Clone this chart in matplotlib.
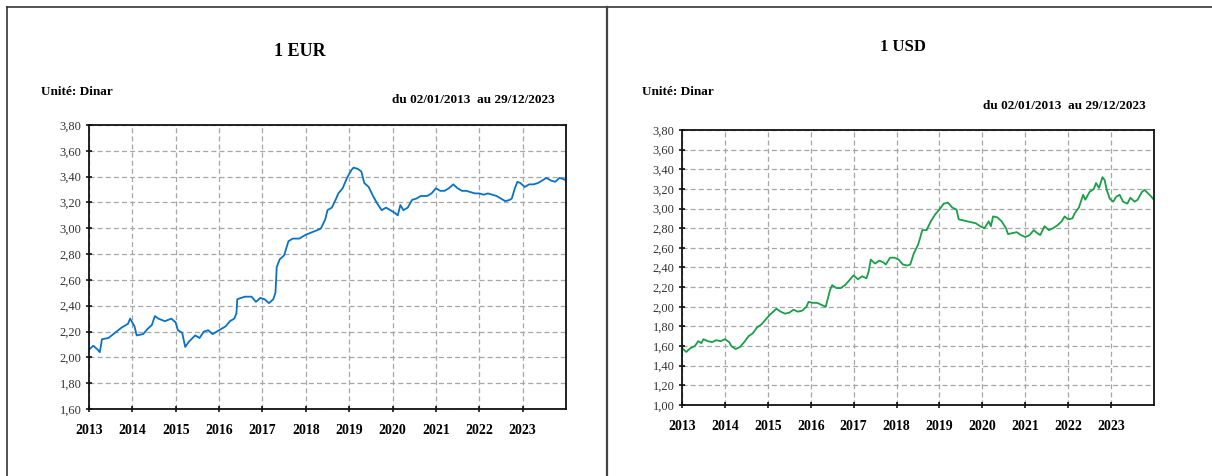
import matplotlib
matplotlib.use("Agg")
import matplotlib.pyplot as plt
from matplotlib.lines import Line2D
from matplotlib.ticker import FuncFormatter

plt.rcParams["font.family"] = ["Liberation Serif", "DejaVu Serif"]

# EUR / Dinar, decimal years
eur_t = [2013.0, 2013.1, 2013.2, 2013.25, 2013.3, 2013.45, 2013.6, 2013.75, 2013.9, 2013.95,
         2014.05, 2014.1, 2014.25, 2014.35, 2014.45, 2014.52, 2014.6, 2014.75, 2014.9, 2015.0,
         2015.05, 2015.15, 2015.22, 2015.3, 2015.45, 2015.55, 2015.65, 2015.75, 2015.85, 2016.0,
         2016.15, 2016.25, 2016.35, 2016.4, 2016.42, 2016.5, 2016.6, 2016.75, 2016.85, 2016.95,
         2017.05, 2017.15, 2017.25, 2017.3, 2017.33, 2017.4, 2017.5, 2017.6, 2017.7, 2017.85,
         2018.0, 2018.15, 2018.3, 2018.35, 2018.45, 2018.5, 2018.6, 2018.7, 2018.75, 2018.85,
         2018.95, 2019.05, 2019.1, 2019.2, 2019.28, 2019.35, 2019.45, 2019.55, 2019.65, 2019.75,
         2019.85, 2019.95, 2020.05, 2020.12, 2020.18, 2020.25, 2020.35, 2020.45, 2020.55, 2020.65,
         2020.8, 2020.9, 2021.0, 2021.1, 2021.2, 2021.3, 2021.4, 2021.5, 2021.6, 2021.7,
         2021.8, 2021.9, 2022.0, 2022.1, 2022.2, 2022.3, 2022.4, 2022.5, 2022.6, 2022.7,
         2022.75, 2022.82, 2022.88, 2022.95, 2023.05, 2023.15, 2023.25, 2023.35, 2023.45, 2023.55,
         2023.65, 2023.75, 2023.85, 2023.95, 2024.0]
eur_v = [2.06, 2.09, 2.06, 2.04, 2.14, 2.15, 2.19, 2.23, 2.26, 2.30,
         2.24, 2.17, 2.18, 2.22, 2.25, 2.32, 2.30, 2.28, 2.30, 2.27,
         2.21, 2.19, 2.08, 2.12, 2.17, 2.15, 2.20, 2.21, 2.18, 2.21,
         2.24, 2.28, 2.30, 2.34, 2.45, 2.46, 2.47, 2.47, 2.43, 2.46,
         2.45, 2.42, 2.45, 2.50, 2.70, 2.76, 2.79, 2.90, 2.92, 2.92,
         2.95, 2.97, 2.99, 3.00, 3.07, 3.14, 3.16, 3.23, 3.27, 3.31,
         3.39, 3.45, 3.47, 3.46, 3.44, 3.35, 3.32, 3.25, 3.19, 3.14,
         3.16, 3.14, 3.12, 3.10, 3.18, 3.14, 3.16, 3.22, 3.23, 3.25,
         3.25, 3.27, 3.31, 3.29, 3.29, 3.31, 3.34, 3.31, 3.29, 3.29,
         3.28, 3.27, 3.27, 3.26, 3.27, 3.26, 3.25, 3.23, 3.21, 3.22,
         3.23, 3.31, 3.36, 3.35, 3.32, 3.34, 3.34, 3.35, 3.37, 3.39,
         3.37, 3.36, 3.39, 3.38, 3.37]

# USD / Dinar, decimal years
usd_t = [2013.0, 2013.05, 2013.1, 2013.2, 2013.3, 2013.38, 2013.45, 2013.5, 2013.6, 2013.7,
         2013.8, 2013.9, 2014.0, 2014.1, 2014.15, 2014.25, 2014.35, 2014.45, 2014.55, 2014.65,
         2014.75, 2014.85, 2014.95, 2015.05, 2015.15, 2015.2, 2015.3, 2015.4, 2015.5, 2015.6,
         2015.7, 2015.8, 2015.9, 2015.95, 2016.05, 2016.15, 2016.25, 2016.35, 2016.38, 2016.45,
         2016.5, 2016.6, 2016.7, 2016.8, 2016.9, 2017.0, 2017.1, 2017.2, 2017.3, 2017.35,
         2017.4, 2017.5, 2017.6, 2017.7, 2017.75, 2017.85, 2017.95, 2018.05, 2018.15, 2018.25,
         2018.32, 2018.4, 2018.5, 2018.55, 2018.6, 2018.7, 2018.8, 2018.9, 2019.0, 2019.1,
         2019.2, 2019.3, 2019.4, 2019.45, 2019.55, 2019.65, 2019.75, 2019.85, 2019.95, 2020.05,
         2020.15, 2020.2, 2020.25, 2020.35, 2020.45, 2020.55, 2020.6, 2020.7, 2020.8, 2020.9,
         2021.0, 2021.1, 2021.2, 2021.28, 2021.35, 2021.45, 2021.55, 2021.65, 2021.75, 2021.85,
         2021.92, 2022.0, 2022.1, 2022.15, 2022.25, 2022.35, 2022.4, 2022.5, 2022.6, 2022.65,
         2022.72, 2022.8, 2022.85, 2022.9, 2022.97, 2023.05, 2023.12, 2023.2, 2023.28, 2023.38,
         2023.45, 2023.55, 2023.62, 2023.72, 2023.78, 2023.85, 2023.92, 2024.0]
usd_v = [1.58, 1.56, 1.54, 1.58, 1.60, 1.65, 1.63, 1.67, 1.65, 1.64,
         1.66, 1.65, 1.67, 1.64, 1.60, 1.57, 1.59, 1.64, 1.70, 1.73,
         1.79, 1.82, 1.87, 1.92, 1.96, 1.98, 1.95, 1.93, 1.94, 1.97,
         1.95, 1.96, 2.00, 2.05, 2.04, 2.04, 2.02, 2.00, 2.05, 2.17,
         2.22, 2.19, 2.19, 2.22, 2.27, 2.32, 2.28, 2.31, 2.29, 2.36,
         2.48, 2.44, 2.47, 2.45, 2.43, 2.50, 2.50, 2.48, 2.43, 2.42,
         2.43, 2.54, 2.63, 2.70, 2.78, 2.78, 2.87, 2.94, 2.99, 3.05,
         3.06, 3.01, 2.99, 2.89, 2.88, 2.87, 2.86, 2.85, 2.82, 2.80,
         2.87, 2.82, 2.92, 2.91, 2.87, 2.80, 2.74, 2.75, 2.76, 2.73,
         2.71, 2.73, 2.78, 2.75, 2.73, 2.82, 2.78, 2.80, 2.83, 2.87,
         2.92, 2.89, 2.90, 2.95, 3.01, 3.14, 3.09, 3.17, 3.20, 3.26,
         3.21, 3.32, 3.29, 3.19, 3.10, 3.07, 3.12, 3.14, 3.07, 3.05,
         3.11, 3.07, 3.09, 3.17, 3.19, 3.16, 3.13, 3.09]

years = list(range(2013, 2024))
eur_yticks = [1.6 + 0.2 * i for i in range(12)]
usd_yticks = [1.0 + 0.2 * i for i in range(15)]


def comma(v, pos):
    return f"{v:.2f}".replace(".", ",")


def style(ax, ylim, yticks):
    ax.set_xlim(2013, 2024)
    ax.set_ylim(*ylim)
    ax.set_xticks(years)
    ax.set_yticks(yticks)
    ax.yaxis.set_major_formatter(FuncFormatter(comma))
    ax.grid(True, color="#a6a6a6", linestyle=(0, (4, 2.5)), linewidth=0.9)
    ax.set_axisbelow(True)
    for s in ax.spines.values():
        s.set_linewidth(1.3)
        s.set_color("#111111")
    ax.tick_params(axis="y", direction="inout", length=5, width=1.1,
                   labelsize=9, labelcolor="#333333", pad=3)
    ax.tick_params(axis="x", direction="inout", length=5, width=1.1,
                   labelsize=10, pad=8)
    for lab in ax.get_xticklabels():
        lab.set_fontweight("bold")


fig = plt.figure(figsize=(12.12, 4.76), dpi=100)

ax1 = fig.add_axes([0.0734, 0.1408, 0.3936, 0.5966])
ax1.plot(eur_t, eur_v, color="#0a72c4", linewidth=1.3)
style(ax1, (1.6, 3.8), eur_yticks)

ax2 = fig.add_axes([0.5627, 0.1492, 0.3894, 0.5777])
ax2.plot(usd_t, usd_v, color="#1a9e48", linewidth=1.3)
style(ax2, (1.0, 3.8), usd_yticks)

# table-like frame around the two panels
border = "#333333"
fig.add_artist(Line2D([0.0058, 1.0], [0.985, 0.985], color=border, linewidth=1.2))
fig.add_artist(Line2D([0.0058, 0.0058], [0.0, 0.985], color=border, linewidth=1.2))
fig.add_artist(Line2D([0.5008, 0.5008], [0.0, 0.985], color="#444444", linewidth=1.6))

fig.text(0.2475, 0.891, "1 EUR", ha="center", va="center", fontsize=13, fontweight="bold")
fig.text(0.0338, 0.807, "Unité: Dinar", ha="left", va="center", fontsize=9.5, fontweight="bold")
fig.text(0.458, 0.790, "du 02/01/2013  au 29/12/2023", ha="right", va="center",
         fontsize=9.5, fontweight="bold")

fig.text(0.745, 0.901, "1 USD", ha="center", va="center", fontsize=12, fontweight="bold")
fig.text(0.5297, 0.807, "Unité: Dinar", ha="left", va="center", fontsize=9.5, fontweight="bold")
fig.text(0.9455, 0.777, "du 02/01/2013  au 29/12/2023", ha="right", va="center",
         fontsize=9.5, fontweight="bold")

fig.savefig("out.png", dpi=100)
